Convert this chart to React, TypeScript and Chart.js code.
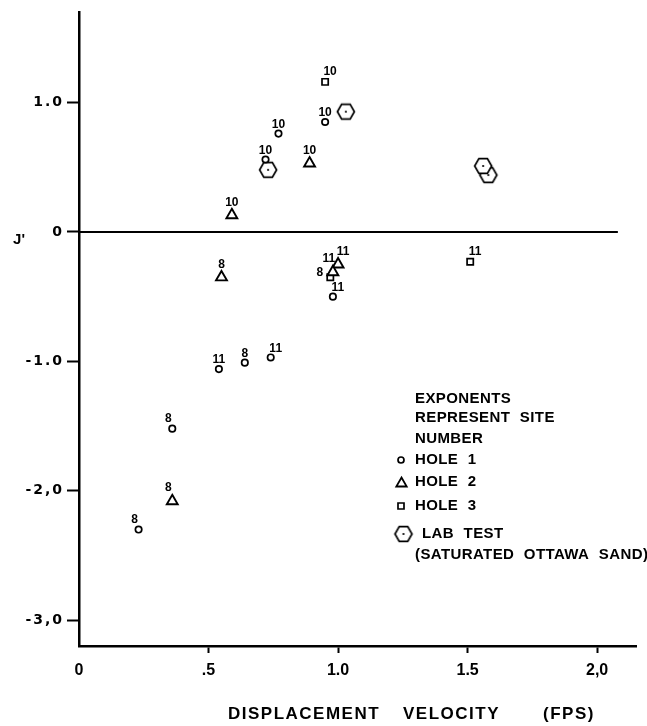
import React, { useEffect, useRef } from 'react';
import { Chart, registerables } from 'chart.js';

Chart.register(...registerables);

// ---- tick values and labels ----
const xTicks = [0, 0.5, 1.0, 1.5, 2.0];
const xTickLabels = ['0', '.5', '1.0', '1.5', '2,0'];
const yTicks = [-3.0, -2.0, -1.0, 0, 1.0];
const yTickLabels = ['-3,0', '-2,0', '-1.0', '0', '1.0'];

// ---- Hole 1 (circles) ----
const hole1X = [0.77, 0.95, 0.72, 0.98, 0.54, 0.64, 0.74, 0.36, 0.23];
const hole1Y = [0.76, 0.85, 0.56, -0.5, -1.06, -1.01, -0.97, -1.52, -2.3];
const hole1Site = ['10', '10', '10', '11', '11', '8', '11', '8', '8'];

// ---- Hole 2 (triangles) ----
const hole2X = [0.59, 0.89, 0.55, 1.0, 0.98, 0.36];
const hole2Y = [0.13, 0.53, -0.35, -0.25, -0.31, -2.08];
const hole2Site = ['10', '10', '8', '11', '11', '8'];

// ---- Hole 3 (squares) ----
const hole3X = [0.95, 0.97, 1.51];
const hole3Y = [1.16, -0.35, -0.23];
const hole3Site = ['10', '8', '11'];

// ---- Lab test (hexagons) ----
const labX = [1.03, 0.73, 1.58, 1.56];
const labY = [0.93, 0.48, 0.44, 0.51];

// ---- zero reference line extent ----
const zeroLineX = [0, 2.08];

// label placement around markers (layout only)
const hole1Anchor = ['N', 'N', 'N', 'NE', 'N', 'N', 'NE', 'NW', 'NW'];
const hole2Anchor = ['N', 'N', 'N', 'NE', 'NW', 'NW'];
const hole3Anchor = ['NE', 'W', 'NE'];

const FONT = "'Liberation Sans', Arial, sans-serif";

function makeHexagon(r: number): HTMLCanvasElement {
  const size = Math.ceil(r * 2 + 5);
  const c = document.createElement('canvas');
  c.width = size;
  c.height = size;
  const g = c.getContext('2d')!;
  const cx = size / 2;
  const cy = size / 2;
  g.fillStyle = '#fff';
  g.strokeStyle = '#000';
  g.lineWidth = 1.7;
  g.beginPath();
  for (let k = 0; k < 6; k++) {
    const a = k * Math.PI / 3;
    const px = cx + r * Math.cos(a);
    const py = cy + r * Math.sin(a);
    if (k === 0) g.moveTo(px, py); else g.lineTo(px, py);
  }
  g.closePath();
  g.fill();
  g.stroke();
  g.fillStyle = '#000';
  g.beginPath();
  g.arc(cx, cy, 1.1, 0, Math.PI * 2);
  g.fill();
  return c;
}

function pts(xs: number[], ys: number[]) {
  return xs.map((x, i) => ({ x, y: ys[i] }));
}

export default function App() {
  const ref = useRef<HTMLCanvasElement>(null);

  useEffect(() => {
    const canvas = ref.current!;
    const hex = makeHexagon(8.5);

    const decorPlugin = {
      id: 'decor',
      beforeDraw(chart: any) {
        const ctx = chart.ctx;
        ctx.save();
        ctx.fillStyle = '#fff';
        ctx.fillRect(0, 0, chart.width, chart.height);
        ctx.restore();
        ctx.letterSpacing = '2px';
      },
      beforeDatasetsDraw(chart: any) {
        chart.ctx.letterSpacing = '0px';
      },
      afterDatasetsDraw(chart: any) {
        const ctx = chart.ctx;
        ctx.save();
        ctx.letterSpacing = '0px';
        ctx.fillStyle = '#000';
        ctx.font = `bold 12px ${FONT}`;
        ctx.textAlign = 'center';
        ctx.textBaseline = 'middle';
        chart.data.datasets.forEach((ds: any, di: number) => {
          if (!ds.siteLabels) return;
          const meta = chart.getDatasetMeta(di);
          const r = ds.pointRadius as number;
          meta.data.forEach((el: any, i: number) => {
            const a = ds.anchors[i];
            let dx = 0;
            let dy = -(r + 6);
            if (a === 'NE') { dx = 5; dy = -(r + 6); }
            if (a === 'NW') { dx = -4; dy = -(r + 7); }
            if (a === 'W') { dx = -(r + 6); dy = -5; }
            ctx.fillText(ds.siteLabels[i], el.x + dx, el.y + dy);
          });
        });
        ctx.restore();
      },
      afterDraw(chart: any) {
        const ctx = chart.ctx;
        ctx.save();
        ctx.fillStyle = '#000';
        ctx.strokeStyle = '#000';
        ctx.textBaseline = 'middle';

        // y axis title
        ctx.letterSpacing = '0px';
        ctx.font = `bold 15px ${FONT}`;
        ctx.textAlign = 'center';
        ctx.fillText("J'", 19, 240);

        // x axis title
        ctx.font = `bold 17px ${FONT}`;
        ctx.letterSpacing = '1.5px';
        ctx.textAlign = 'left';
        ctx.fillText('DISPLACEMENT', 228, 714);
        ctx.fillText('VELOCITY', 403, 714);
        ctx.fillText('(FPS)', 543, 714);

        // legend
        ctx.font = `bold 15px ${FONT}`;
        ctx.letterSpacing = '0.4px';
        ctx.wordSpacing = '5px';
        const lx = 415;
        ctx.fillText('EXPONENTS', lx, 399);
        ctx.fillText('REPRESENT SITE', lx, 418);
        ctx.fillText('NUMBER', lx, 439);
        ctx.fillText('HOLE 1', lx, 460);
        ctx.fillText('HOLE 2', lx, 482);
        ctx.fillText('HOLE 3', lx, 506);
        ctx.fillText('LAB TEST', 422, 534);
        ctx.fillText('(SATURATED OTTAWA SAND)', lx, 555);

        // legend markers
        ctx.lineWidth = 1.7;
        ctx.fillStyle = '#fff';
        ctx.beginPath();
        ctx.arc(401, 460, 3, 0, Math.PI * 2);
        ctx.fill();
        ctx.stroke();

        ctx.lineWidth = 1.8;
        const tr = 6;
        const tcx = 401.5;
        const tcy = 483.5;
        ctx.beginPath();
        ctx.moveTo(tcx, tcy - tr);
        ctx.lineTo(tcx + tr * Math.sin(2 * Math.PI / 3), tcy - tr * Math.cos(2 * Math.PI / 3));
        ctx.lineTo(tcx + tr * Math.sin(4 * Math.PI / 3), tcy - tr * Math.cos(4 * Math.PI / 3));
        ctx.closePath();
        ctx.fill();
        ctx.stroke();

        ctx.lineWidth = 1.7;
        ctx.beginPath();
        ctx.rect(398, 503, 6, 6);
        ctx.fill();
        ctx.stroke();

        ctx.drawImage(hex, 403.5 - hex.width / 2, 534 - hex.height / 2);
        ctx.restore();
        ctx.letterSpacing = '0px';
        ctx.wordSpacing = '0px';
      },
    };

    const chart = new Chart(canvas, {
      type: 'scatter',
      data: {
        datasets: [
          {
            label: 'zero',
            data: pts(zeroLineX, [0, 0]),
            showLine: true,
            borderColor: '#000',
            borderWidth: 2,
            pointRadius: 0,
            fill: false,
          } as any,
          {
            label: 'HOLE 1',
            data: pts(hole1X, hole1Y),
            pointStyle: 'circle',
            pointRadius: 3.2,
            borderWidth: 1.7,
            borderColor: '#000',
            backgroundColor: '#fff',
            siteLabels: hole1Site,
            anchors: hole1Anchor,
          } as any,
          {
            label: 'LAB TEST',
            data: pts(labX, labY),
            pointStyle: hex,
            pointRadius: 9,
            borderColor: '#000',
            backgroundColor: '#fff',
          } as any,
          {
            label: 'HOLE 2',
            data: pts(hole2X, hole2Y),
            pointStyle: 'triangle',
            pointRadius: 6.3,
            borderWidth: 1.9,
            borderColor: '#000',
            backgroundColor: '#fff',
            siteLabels: hole2Site,
            anchors: hole2Anchor,
          } as any,
          {
            label: 'HOLE 3',
            data: pts(hole3X, hole3Y),
            pointStyle: 'rect',
            pointRadius: 4.4,
            borderWidth: 1.7,
            borderColor: '#000',
            backgroundColor: '#fff',
            siteLabels: hole3Site,
            anchors: hole3Anchor,
          } as any,
        ],
      },
      options: {
        responsive: false,
        animation: false,
        events: [],
        layout: { padding: { top: 12, right: 11, left: 0, bottom: 0 } },
        plugins: {
          legend: { display: false },
          tooltip: { enabled: false },
          title: { display: false },
        },
        scales: {
          x: {
            type: 'linear',
            min: 0,
            max: 2.15,
            afterFit: (s: any) => { s.height = 80; },
            afterBuildTicks: (s: any) => { s.ticks = xTicks.map((v) => ({ value: v })); },
            grid: {
              drawOnChartArea: false,
              drawTicks: true,
              tickLength: 7,
              tickWidth: 2,
              tickColor: (c: any) => (c.tick && c.tick.value === 0 ? 'rgba(0,0,0,0)' : '#000'),
            },
            border: { display: true, width: 2.5, color: '#000' },
            ticks: {
              z: 1,
              color: '#000',
              padding: 8,
              autoSkip: false,
              maxRotation: 0,
              font: { family: FONT, size: 16, weight: 'bold' },
              callback: (v: any) => {
                const i = xTicks.indexOf(Number(v));
                return i >= 0 ? xTickLabels[i] : '';
              },
            },
          },
          y: {
            type: 'linear',
            min: -3.2,
            max: 1.7,
            afterFit: (s: any) => { s.width = 79; },
            afterBuildTicks: (s: any) => { s.ticks = yTicks.map((v) => ({ value: v })); },
            grid: {
              drawOnChartArea: false,
              drawTicks: true,
              tickLength: 12,
              tickWidth: 2,
              tickColor: '#000',
            },
            border: { display: true, width: 2.5, color: '#000' },
            ticks: {
              color: '#000',
              padding: 3,
              autoSkip: false,
              font: { family: "'DejaVu Sans', sans-serif", size: 14, weight: 'bold' },
              callback: (v: any) => {
                const i = yTicks.indexOf(Number(v));
                return i >= 0 ? yTickLabels[i] : '';
              },
            },
          },
        },
      } as any,
      plugins: [decorPlugin],
    });

    return () => chart.destroy();
  }, []);

  return (
    <div style={{ position: 'fixed', left: 0, top: 0, width: 647, height: 726, background: '#fff' }}>
      <canvas ref={ref} width={647} height={726} style={{ width: 647, height: 726, display: 'block' }} />
    </div>
  );
}
